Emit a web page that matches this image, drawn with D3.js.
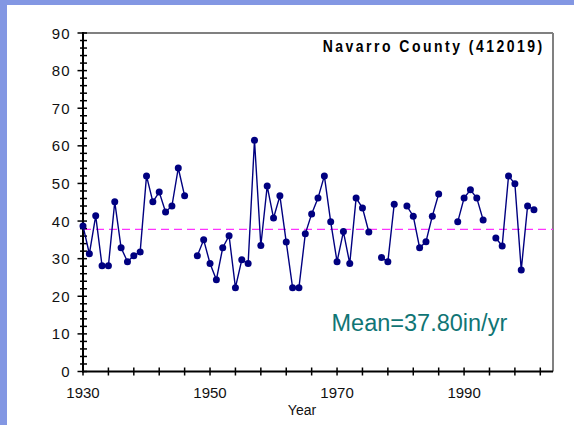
<!DOCTYPE html>
<html><head><meta charset="utf-8">
<script src="https://cdn.jsdelivr.net/npm/d3@7"></script>
<style>
html,body{margin:0;padding:0;background:#fff;}
svg{display:block;font-family:"Liberation Sans",Arial,sans-serif;}
</style></head>
<body>
<script>
const years = d3.range(1930, 2002);
const precip = [38.7,31.3,41.4,28.1,28.1,45.1,32.9,29.2,30.8,31.8,
  52.0,45.1,47.7,42.4,44.0,54.1,46.7,null,30.8,35.0,
  28.7,24.4,32.9,36.1,22.3,29.7,28.7,61.5,33.5,49.3,
  40.8,46.7,34.4,22.3,22.3,36.6,41.9,46.1,52.0,39.8,
  29.2,37.2,28.7,46.1,43.5,37.1,null,30.3,29.2,44.5,
  null,44.0,41.3,32.9,34.5,41.3,47.2,null,null,39.8,
  46.1,48.3,46.1,40.3,null,35.5,33.4,52.0,49.9,27.0,
  44.0,43.0];
const meanValue = 37.80;
const yTickLabels = [0,10,20,30,40,50,60,70,80,90];
const xTickLabels = [1930,1950,1970,1990];
const titleText = "Navarro County (412019)";
const meanText = "Mean=37.80in/yr";
const xTitle = "Year";

const data = years.map((yr,i)=>({year:yr, v:precip[i]}));

const W=574,H=425;
const svg=d3.select("body").append("svg").attr("width",W).attr("height",H);
svg.append("rect").attr("width",W).attr("height",H).attr("fill","#fff");
svg.append("rect").attr("x",0).attr("y",0).attr("width",7).attr("height",H).attr("fill","#8397e3");
svg.append("rect").attr("x",0).attr("y",0).attr("width",W).attr("height",5).attr("fill","#8397e3");

const x=d3.scaleLinear().domain([1930,2004]).range([83,553]);
const y=d3.scaleLinear().domain([0,90]).range([371.5,33]);

// gray frame top & right
svg.append("line").attr("x1",x(1930)).attr("x2",x(2004)).attr("y1",y(90)).attr("y2",y(90)).attr("stroke","#808080").attr("stroke-width",2);
svg.append("line").attr("x1",x(2004)).attr("x2",x(2004)).attr("y1",y(90)).attr("y2",y(0)).attr("stroke","#808080").attr("stroke-width",2);

// mean line
svg.append("line").attr("x1",x(1930)).attr("x2",x(2004)).attr("y1",y(meanValue)).attr("y2",y(meanValue))
  .attr("stroke","#ff33ff").attr("stroke-width",1.4).attr("stroke-dasharray","8,5");

// y axis ticks
const yMinor=d3.range(0,91,2);
const yg=svg.append("g");
yg.selectAll("line.mi").data(yMinor).join("line")
  .attr("x1",d=>d%10===0?77.5:80).attr("x2",87).attr("y1",d=>y(d)).attr("y2",d=>y(d))
  .attr("stroke","#000").attr("stroke-width",1.5);
yg.append("line").attr("x1",x(1930)).attr("x2",x(1930)).attr("y1",y(90)-1).attr("y2",y(0)+1).attr("stroke","#000").attr("stroke-width",2);
yg.selectAll("text").data(yTickLabels).join("text")
  .attr("x",70.5).attr("y",d=>y(d)+5.5).attr("text-anchor","end")
  .attr("font-size",15).attr("letter-spacing",1).attr("fill","#111").text(d=>d);

// x axis
const xMinor=d3.range(1930,2004,4);
const xg=svg.append("g");
xg.selectAll("line").data(xMinor).join("line")
  .attr("x1",d=>x(d)).attr("x2",d=>x(d)).attr("y1",y(0)-4).attr("y2",y(0)+4)
  .attr("stroke","#000").attr("stroke-width",1.5);
xg.append("line").attr("x1",x(1930)-1).attr("x2",x(2004)).attr("y1",y(0)).attr("y2",y(0)).attr("stroke","#000").attr("stroke-width",2);
xg.selectAll("text").data(xTickLabels).join("text")
  .attr("x",d=>x(d)).attr("y",398).attr("text-anchor","middle")
  .attr("font-size",15).attr("fill","#111").text(d=>d);
svg.append("text").attr("x",302).attr("y",415).attr("text-anchor","middle")
  .attr("font-size",14).attr("fill","#111").text(xTitle);

// series
const line=d3.line().defined(d=>d.v!==null).x(d=>x(d.year)).y(d=>y(d.v));
svg.append("path").datum(data).attr("d",line).attr("fill","none")
  .attr("stroke","#000080").attr("stroke-width",1.4);
svg.selectAll("circle.pt").data(data.filter(d=>d.v!==null)).join("circle")
  .attr("cx",d=>x(d.year)).attr("cy",d=>y(d.v)).attr("r",3.5).attr("fill","#000080");

// title
svg.append("text").attr("transform","translate(322.7,51.7) scale(1,1.15)")
  .attr("font-size",14).attr("font-weight","bold")
  .attr("textLength",219.5).attr("lengthAdjust","spacing").attr("fill","#000").text(titleText);

// mean label
svg.append("text").attr("x",331.5).attr("y",331).attr("font-size",23.5).attr("fill","#107575").text(meanText);
</script>
</body></html>
